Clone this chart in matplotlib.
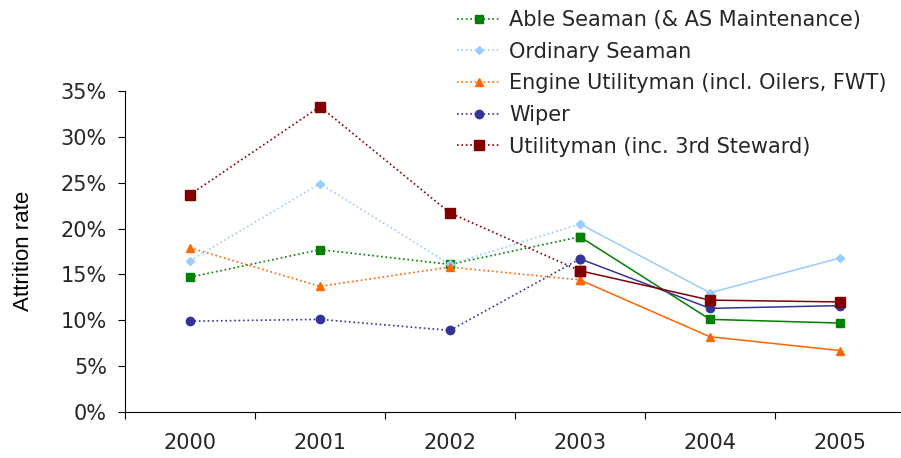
import matplotlib.pyplot as plt
from matplotlib.ticker import PercentFormatter

years = ["2000", "2001", "2002", "2003", "2004", "2005"]
able_seaman = [0.147, 0.177, 0.161, 0.191, 0.101, 0.097]
ordinary_seaman = [0.165, 0.249, 0.161, 0.205, 0.130, 0.168]
engine_utility = [0.179, 0.137, 0.158, 0.144, 0.082, 0.067]
wiper = [0.099, 0.101, 0.089, 0.167, 0.113, 0.116]
utilityman = [0.237, 0.333, 0.217, 0.154, 0.122, 0.120]

series = [
    ("Able Seaman (& AS Maintenance)", able_seaman, "#008000", "s", 6),
    ("Ordinary Seaman", ordinary_seaman, "#99CCFF", "D", 4.5),
    ("Engine Utilityman (incl. Oilers, FWT)", engine_utility, "#FF6600", "^", 6),
    ("Wiper", wiper, "#333399", "o", 6),
    ("Utilityman (inc. 3rd Steward)", utilityman, "#800000", "s", 7.5),
]

plt.rcParams["font.family"] = ["DejaVu Sans"]
plt.rcParams["text.color"] = "#262626"

fig = plt.figure(figsize=(9.01, 4.58), dpi=100)
ax = fig.add_axes([125 / 901, 1 - 412 / 458, 780 / 901, (412 - 91) / 458])

x = list(range(len(years)))
split = 3  # dotted up to 2003, solid afterwards
for label, vals, color, marker, ms in series:
    ax.plot(x[:split + 1], vals[:split + 1], color=color, linestyle=":",
            linewidth=1.2, marker=marker, markersize=ms, label=label)
    ax.plot(x[split:], vals[split:], color=color, linestyle="-",
            linewidth=1.1, marker=marker, markersize=ms)

ax.set_ylim(0, 0.35)
ax.set_xlim(-0.5, len(years) - 0.5)
ax.set_yticks([i * 0.05 for i in range(8)])
ax.yaxis.set_major_formatter(PercentFormatter(1.0, decimals=0))

ax.set_xticks([i - 0.5 for i in range(len(years) + 1)])
ax.set_xticklabels([])
ax.set_xticks(x, minor=True)
ax.set_xticklabels(years, minor=True)
ax.tick_params(axis="x", which="minor", length=0, pad=15, labelsize=15, labelcolor="#262626")
ax.tick_params(axis="x", which="major", length=5, direction="out")
ax.tick_params(axis="y", length=5, direction="out", labelsize=15, pad=8, labelcolor="#262626")

ax.spines["top"].set_visible(False)
ax.spines["right"].set_visible(False)
ax.set_ylabel("Attrition rate", fontsize=16, family="Liberation Sans", labelpad=0)
ax.yaxis.set_label_coords(34 / 901, 1 - 251 / 458, transform=fig.transFigure)

ax.legend(loc="upper left", bbox_to_anchor=(457 / 901, 1 - 10 / 458), bbox_transform=fig.transFigure,
          frameon=False, fontsize=15, handlelength=2.1, labelspacing=0.56,
          handletextpad=0.4, borderaxespad=0, borderpad=0)

fig.savefig("out.png", dpi=100)
